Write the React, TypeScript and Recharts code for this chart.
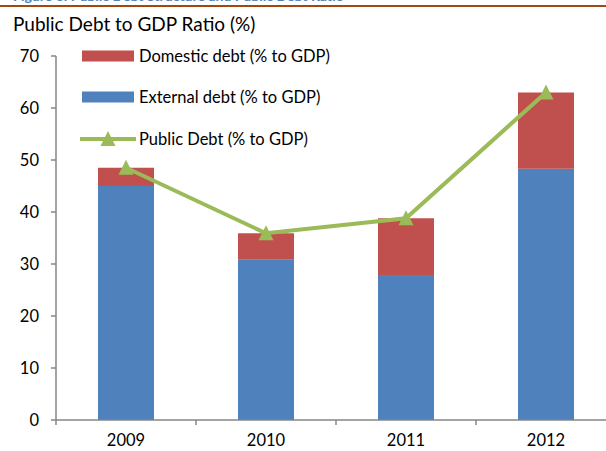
import React from 'react';
import {
  Bar,
  ComposedChart,
  Legend,
  Line,
  XAxis,
  YAxis,
} from 'recharts';

const years = ['2009', '2010', '2011', '2012'];
const externalDebt = [45.0, 30.8, 27.9, 48.3];
const domesticDebt = [3.5, 5.1, 10.9, 14.7];
const publicDebt = [48.5, 35.9, 38.8, 63.0];
const yTicks = [0, 10, 20, 30, 40, 50, 60, 70];

const seriesNames = {
  domestic: 'Domestic debt (% to GDP)',
  external: 'External debt (% to GDP)',
  public: 'Public Debt (% to GDP)',
};
const legendOrder = ['domestic', 'external', 'public'];

const colors = {
  external: '#4F81BD',
  domestic: '#C0504D',
  public: '#9BBB59',
  axis: '#868686',
  text: '#000000',
  rule: '#A0480F',
  caption: '#4F81BD',
};

const FONT = 'Lato, "Open Sans", sans-serif';

const data = years.map((year, i) => ({
  year,
  external: externalDebt[i],
  domestic: domesticDebt[i],
  public: publicDebt[i],
}));

function Triangle(props: any) {
  const { cx, cy } = props;
  if (cx == null || cy == null) return null;
  return (
    <path
      d={`M${cx},${cy - 8} L${cx + 7.5},${cy + 7} L${cx - 7.5},${cy + 7} Z`}
      fill={colors.public}
    />
  );
}

function XTick(props: any) {
  const { x, y, payload } = props;
  const half = payload.offset ?? 0;
  return (
    <g>
      <line x1={x - half} x2={x - half} y1={y} y2={y + 5} stroke={colors.axis} strokeWidth={1.5} />
      <text x={x} y={y + 26} textAnchor="middle" fill={colors.text} fontSize={16.5} fontFamily={FONT}>
        {payload.value}
      </text>
    </g>
  );
}

function LegendContent(props: any) {
  const payload = props.payload || [];
  const items = legendOrder
    .map((k) => payload.find((p: any) => p.dataKey === k))
    .filter(Boolean);
  return (
    <div style={{ fontFamily: FONT, fontSize: 16.5, color: colors.text }}>
      {items.map((it: any) => (
        <div key={it.dataKey} style={{ display: 'flex', alignItems: 'center', height: 41.5 }}>
          <svg width={56} height={18}>
            {it.dataKey === 'public' ? (
              <g>
                <line x1={0} x2={56} y1={9} y2={9} stroke={colors.public} strokeWidth={4} />
                <Triangle cx={28} cy={9} />
              </g>
            ) : (
              <rect x={2} y={3.5} width={52} height={11} fill={it.color} />
            )}
          </svg>
          <span style={{ marginLeft: 3, whiteSpace: 'nowrap' }}>{it.value}</span>
        </div>
      ))}
    </div>
  );
}

export default function App() {
  return (
    <div
      style={{
        position: 'absolute',
        left: 0,
        top: 0,
        width: 606,
        height: 451,
        overflow: 'hidden',
        background: '#fff',
      }}
    >
      <div
        style={{
          position: 'absolute',
          left: 13,
          top: -13,
          fontFamily: FONT,
          fontWeight: 700,
          fontSize: 14,
          color: colors.caption,
          whiteSpace: 'nowrap',
        }}
      >
        Figure 3: Public Debt Structure and Public Debt Ratio
      </div>
      <div
        style={{
          position: 'absolute',
          left: 0,
          top: 5,
          width: 606,
          height: 2,
          background: colors.rule,
        }}
      />
      <div
        style={{
          position: 'absolute',
          left: 13,
          top: 12,
          fontFamily: FONT,
          fontSize: 19,
          color: colors.text,
          whiteSpace: 'nowrap',
        }}
      >
        Public Debt to GDP Ratio (%)
      </div>
      <div style={{ position: 'absolute', left: 0, top: 0 }}>
        <ComposedChart
          width={616}
          height={451}
          data={data}
          margin={{ top: 56, right: 0, bottom: 0, left: 0 }}
          barCategoryGap="30%"
        >
          <XAxis
            dataKey="year"
            height={31}
            axisLine={{ stroke: colors.axis, strokeWidth: 1.5 }}
            tickLine={false}
            tickSize={0}
            tickMargin={0}
            tick={<XTick />}
            interval={0}
          />
          <YAxis
            width={56}
            domain={[0, 70]}
            ticks={yTicks}
            interval={0}
            axisLine={{ stroke: colors.axis, strokeWidth: 1.5 }}
            tickLine={{ stroke: colors.axis, strokeWidth: 1.5 }}
            tickSize={5}
            tickMargin={12}
            tick={{ fill: colors.text, fontSize: 16.5, fontFamily: FONT }}
          />
          <Legend
            content={<LegendContent />}
            layout="vertical"
            verticalAlign="middle"
            align="center"
            wrapperStyle={{ top: 35, left: 80, width: 320 }}
          />
          <Bar
            dataKey="external"
            name={seriesNames.external}
            stackId="debt"
            fill={colors.external}
            isAnimationActive={false}
          />
          <Bar
            dataKey="domestic"
            name={seriesNames.domestic}
            stackId="debt"
            fill={colors.domestic}
            isAnimationActive={false}
          />
          <Line
            dataKey="public"
            name={seriesNames.public}
            stroke={colors.public}
            strokeWidth={4}
            dot={<Triangle />}
            activeDot={false}
            legendType="triangle"
            isAnimationActive={false}
          />
        </ComposedChart>
      </div>
    </div>
  );
}
